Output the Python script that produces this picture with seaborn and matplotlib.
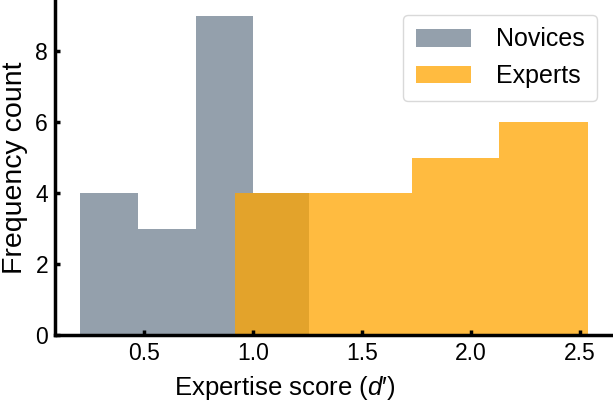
import numpy as np
import pandas as pd
import matplotlib
matplotlib.use("Agg")
import matplotlib.pyplot as plt
import seaborn as sns

# Histogram bins and counts
novice_edges = [0.21, 0.475, 0.74, 1.0, 1.26]
novice_counts = [4, 3, 9, 4]
expert_edges = [0.92, 1.325, 1.73, 2.13, 2.535]
expert_counts = [4, 4, 5, 6]
x_ticks = [0.5, 1.0, 1.5, 2.0, 2.5]
y_ticks = [0, 2, 4, 6, 8]

sns.set_style("ticks")
plt.rcParams["font.family"] = ["Liberation Sans", "DejaVu Sans"]
plt.rcParams["mathtext.fontset"] = "custom"
plt.rcParams["mathtext.it"] = "Liberation Sans:italic"
plt.rcParams["mathtext.rm"] = "Liberation Sans"
for k in ["text.color", "axes.labelcolor", "xtick.color", "ytick.color", "axes.edgecolor"]:
    plt.rcParams[k] = "black"

def centers(edges):
    e = np.asarray(edges)
    return (e[:-1] + e[1:]) / 2

df_nov = pd.DataFrame({"score": centers(novice_edges), "n": novice_counts})
df_exp = pd.DataFrame({"score": centers(expert_edges), "n": expert_counts})

fig = plt.figure(figsize=(6.13, 4.01), dpi=100)
ax = fig.add_axes([55 / 613, 66 / 401, 558 / 613, 335 / 401])
ax.set_axisbelow(False)

sns.histplot(data=df_nov, x="score", weights="n", bins=novice_edges, ax=ax,
             color="slategray", alpha=0.75, edgecolor="none", linewidth=0,
             label="Novices")
sns.histplot(data=df_exp, x="score", weights="n", bins=expert_edges, ax=ax,
             color="orange", alpha=0.75, edgecolor="none", linewidth=0,
             label="Experts")

ax.set_xticks(x_ticks)
ax.set_yticks(y_ticks)
ax.set_xlabel("Expertise score ($d$\u2032)", fontsize=18.5)
ax.xaxis.set_label_coords((285 - 55) / 558, -0.115)
ax.set_ylabel("Frequency count", fontsize=20.5, labelpad=5)
ax.tick_params(direction="in", length=3.5, width=2.5, labelsize=16.5, pad=5)
sns.despine(ax=ax)
for s in ["left", "bottom"]:
    ax.spines[s].set_linewidth(2.5)

leg = ax.legend(loc="upper right", bbox_to_anchor=(542 / 558, 1 - 15 / 335),
                borderaxespad=0, fontsize=18, frameon=True, handlelength=2.2,
                borderpad=0.5, labelspacing=0.5, handletextpad=1.0)
leg.get_frame().set_edgecolor("#d0d0d0")

fig.savefig("out.png", dpi=100)
